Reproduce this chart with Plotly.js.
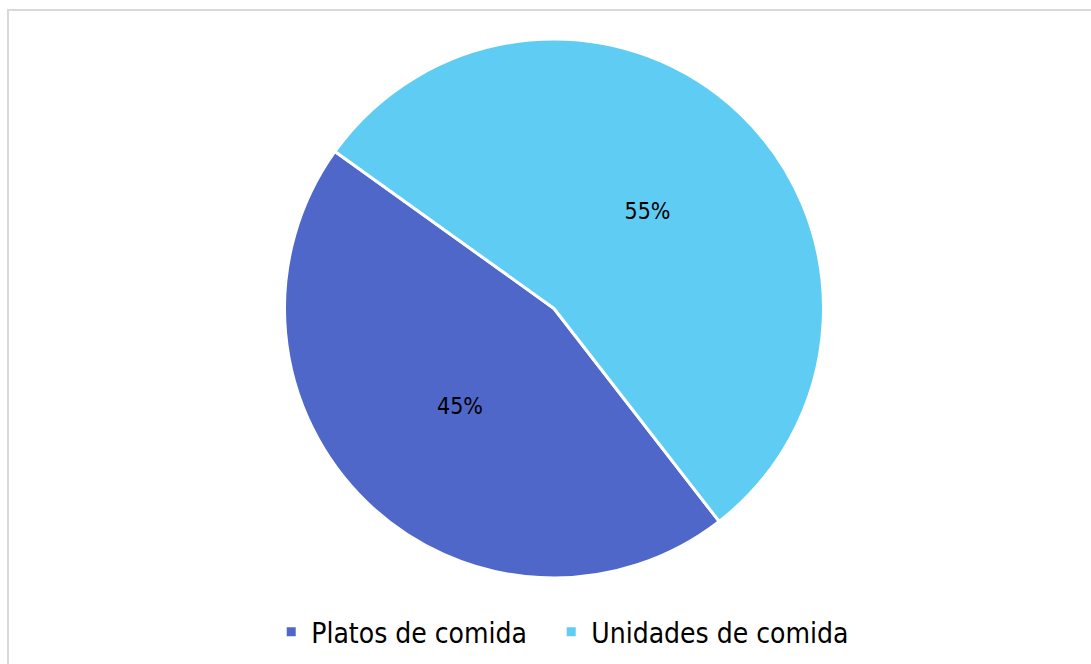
<!DOCTYPE html>
<html>
<head>
<meta charset="utf-8">
<script src="https://cdn.plot.ly/plotly-3.0.1.min.js"></script>
<style>
html,body{margin:0;padding:0;background:#fff;}
#chart{width:1091px;height:664px;position:relative;}
#frame{position:absolute;left:7px;top:9px;width:1100px;height:700px;border-left:2px solid #d9d9d9;border-top:2px solid #d9d9d9;pointer-events:none;}
</style>
</head>
<body>
<div id="chart"></div>
<div id="frame"></div>
<script>
const labels = ["Platos de comida", "Unidades de comida"];
const values = [45.4, 54.6];
const colors = ["#4F67C9", "#5FCDF3"];

const trace = {
  type: "pie",
  labels: labels,
  values: values,
  sort: false,
  direction: "clockwise",
  rotation: 142.2,
  marker: {colors: colors, line: {color: "#ffffff", width: 3}},
  textinfo: "percent",
  texttemplate: "%{percent:.0%}",
  textposition: "inside",
  insidetextorientation: "horizontal",
  textfont: {family: "DejaVu Sans Condensed, DejaVu Sans", size: 23, color: "#000000"},
  hoverinfo: "label+percent"
};

const layout = {
  width: 1091,
  height: 664,
  margin: {l: 17, r: 0, t: 39, b: 86},
  paper_bgcolor: "#ffffff",
  showlegend: true,
  legend: {
    orientation: "h",
    xref: "container",
    yref: "container",
    x: 0.2486,
    xanchor: "left",
    y: 0.048,
    yanchor: "middle",
    font: {family: "DejaVu Sans Condensed, DejaVu Sans", size: 28, color: "#000000"},
    itemwidth: 30,
    entrywidth: 235,
    entrywidthmode: "pixels",
    traceorder: "normal"
  }
};

Plotly.newPlot("chart", [trace], layout, {displayModeBar: false}).then(function (gd) {
  // let the last legend entry extend beyond the fixed entry width
  gd.querySelectorAll(".legend .scrollbox").forEach(function (el) {
    el.removeAttribute("clip-path");
  });
});
</script>
</body>
</html>
